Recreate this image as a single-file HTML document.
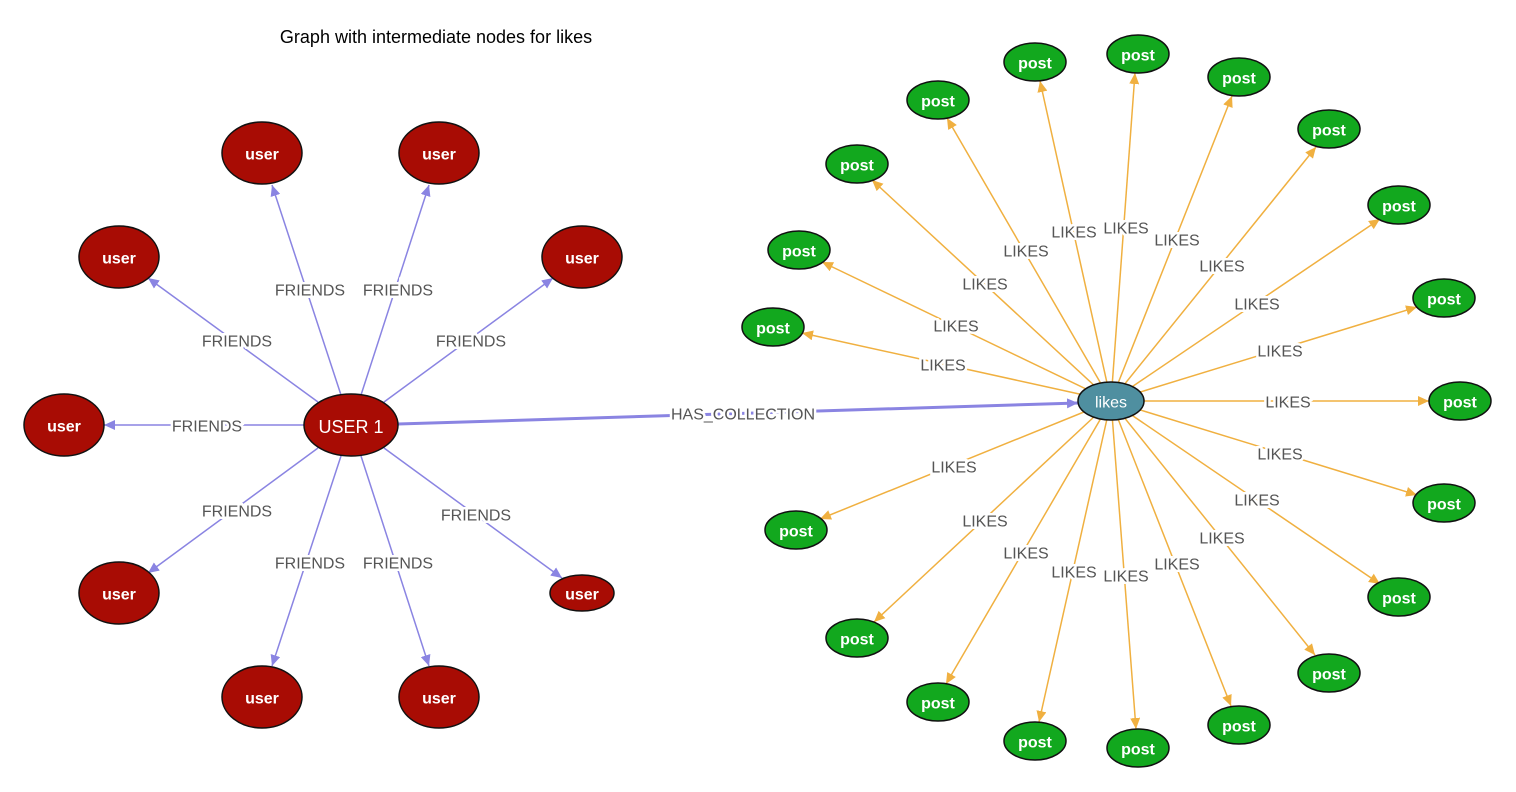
<!DOCTYPE html>
<html><head><meta charset="utf-8"><style>
html,body{margin:0;padding:0;background:#fff;}
svg{display:block;font-family:"Liberation Sans",Arial,sans-serif;}
.lb{font-size:16px;fill:#555;text-anchor:middle;dominant-baseline:central;paint-order:stroke;stroke:#fff;stroke-width:5px;transform:translateY(2px);}
.nt{font-size:16px;fill:#fff;text-anchor:middle;dominant-baseline:central;font-weight:bold;transform:translateY(2px);}
.f{stroke:#8a84e2;stroke-width:1.5;marker-end:url(#ab);}
.l{stroke:#f0b040;stroke-width:1.5;marker-end:url(#ao);}
.u{fill:#a80c04;stroke:#111;stroke-width:1.5;}
.p{fill:#12a81e;stroke:#111;stroke-width:1.5;}
</style></head><body>
<svg width="1516" height="792" viewBox="0 0 1516 792">
<defs>
<marker id="ab" markerUnits="userSpaceOnUse" markerWidth="12" markerHeight="10" refX="11" refY="5" orient="auto"><path d="M0,0L11,5L0,10z" fill="#8a84e2"/></marker>
<marker id="ao" markerUnits="userSpaceOnUse" markerWidth="12" markerHeight="10" refX="11" refY="5" orient="auto"><path d="M0,0L11,5L0,10z" fill="#f0b040"/></marker>
</defs>
<text x="436" y="37" font-size="18" text-anchor="middle" dominant-baseline="central" fill="#000">Graph with intermediate nodes for likes</text>
<g>
<line class="f" x1="341" y1="395" x2="272" y2="185"/>
<line class="f" x1="361" y1="395" x2="429" y2="185"/>
<line class="f" x1="318" y1="402" x2="148" y2="278"/>
<line class="f" x1="384" y1="402" x2="553" y2="278"/>
<line class="f" x1="304" y1="425" x2="104" y2="425"/>
<line class="f" x1="318" y1="448" x2="148" y2="573"/>
<line class="f" x1="341" y1="456" x2="272" y2="666"/>
<line class="f" x1="361" y1="456" x2="429" y2="666"/>
<line class="f" x1="384" y1="448" x2="562" y2="578"/>
<line x1="398" y1="424" x2="1078" y2="403" stroke="#8a84e2" stroke-width="3" marker-end="url(#ab)"/>
</g>
<g>
<line class="l" x1="1111" y1="401" x2="1040" y2="81"/>
<line class="l" x1="1111" y1="401" x2="1135" y2="73"/>
<line class="l" x1="1111" y1="401" x2="1232" y2="96"/>
<line class="l" x1="1111" y1="401" x2="1316" y2="147"/>
<line class="l" x1="1111" y1="401" x2="1380" y2="219"/>
<line class="l" x1="1111" y1="401" x2="1417" y2="307"/>
<line class="l" x1="1111" y1="401" x2="1429" y2="401"/>
<line class="l" x1="1111" y1="401" x2="1417" y2="495"/>
<line class="l" x1="1111" y1="401" x2="1380" y2="584"/>
<line class="l" x1="1111" y1="401" x2="1315" y2="655"/>
<line class="l" x1="1111" y1="401" x2="1231" y2="706"/>
<line class="l" x1="1111" y1="401" x2="1136" y2="729"/>
<line class="l" x1="1111" y1="401" x2="1039" y2="722"/>
<line class="l" x1="1111" y1="401" x2="946" y2="684"/>
<line class="l" x1="1111" y1="401" x2="874" y2="622"/>
<line class="l" x1="1111" y1="401" x2="820" y2="519"/>
<line class="l" x1="1111" y1="401" x2="802" y2="333"/>
<line class="l" x1="1111" y1="401" x2="822" y2="262"/>
<line class="l" x1="1111" y1="401" x2="872" y2="180"/>
<line class="l" x1="1111" y1="401" x2="947" y2="118"/>
</g>
<g class="labels">
<text class="lb" x="310" y="289">FRIENDS</text>
<text class="lb" x="398" y="289">FRIENDS</text>
<text class="lb" x="237" y="340">FRIENDS</text>
<text class="lb" x="471" y="340">FRIENDS</text>
<text class="lb" x="207" y="425">FRIENDS</text>
<text class="lb" x="237" y="510">FRIENDS</text>
<text class="lb" x="310" y="562">FRIENDS</text>
<text class="lb" x="398" y="562">FRIENDS</text>
<text class="lb" x="476" y="514">FRIENDS</text>
<text class="lb" x="743" y="413">HAS_COLLECTION</text>
<text class="lb" x="1074" y="231">LIKES</text>
<text class="lb" x="1126" y="227">LIKES</text>
<text class="lb" x="1177" y="239">LIKES</text>
<text class="lb" x="1222" y="265">LIKES</text>
<text class="lb" x="1257" y="303">LIKES</text>
<text class="lb" x="1280" y="350">LIKES</text>
<text class="lb" x="1288" y="401">LIKES</text>
<text class="lb" x="1280" y="453">LIKES</text>
<text class="lb" x="1257" y="499">LIKES</text>
<text class="lb" x="1222" y="537">LIKES</text>
<text class="lb" x="1177" y="563">LIKES</text>
<text class="lb" x="1126" y="575">LIKES</text>
<text class="lb" x="1074" y="571">LIKES</text>
<text class="lb" x="1026" y="552">LIKES</text>
<text class="lb" x="985" y="520">LIKES</text>
<text class="lb" x="954" y="466">LIKES</text>
<text class="lb" x="943" y="364">LIKES</text>
<text class="lb" x="956" y="325">LIKES</text>
<text class="lb" x="985" y="283">LIKES</text>
<text class="lb" x="1026" y="250">LIKES</text>
</g>
<g>
<ellipse class="u" cx="351" cy="425" rx="47" ry="31"/><text class="nt" x="351" y="425" style="font-weight:normal;font-size:18px">USER 1</text>
<ellipse class="u" cx="262" cy="153" rx="40" ry="31"/><text class="nt" x="262" y="153">user</text>
<ellipse class="u" cx="439" cy="153" rx="40" ry="31"/><text class="nt" x="439" y="153">user</text>
<ellipse class="u" cx="119" cy="257" rx="40" ry="31"/><text class="nt" x="119" y="257">user</text>
<ellipse class="u" cx="582" cy="257" rx="40" ry="31"/><text class="nt" x="582" y="257">user</text>
<ellipse class="u" cx="64" cy="425" rx="40" ry="31"/><text class="nt" x="64" y="425">user</text>
<ellipse class="u" cx="119" cy="593" rx="40" ry="31"/><text class="nt" x="119" y="593">user</text>
<ellipse class="u" cx="262" cy="697" rx="40" ry="31"/><text class="nt" x="262" y="697">user</text>
<ellipse class="u" cx="439" cy="697" rx="40" ry="31"/><text class="nt" x="439" y="697">user</text>
<ellipse class="u" cx="582" cy="593" rx="32" ry="18"/><text class="nt" x="582" y="593">user</text>
<ellipse cx="1111" cy="401" rx="33" ry="19" fill="#4f8fa0" stroke="#111" stroke-width="1.5"/><text class="nt" x="1111" y="401" style="font-weight:normal">likes</text>
</g>
<g>
<ellipse class="p" cx="1035" cy="62" rx="31" ry="19"/><text class="nt" x="1035" y="62">post</text>
<ellipse class="p" cx="1138" cy="54" rx="31" ry="19"/><text class="nt" x="1138" y="54">post</text>
<ellipse class="p" cx="1239" cy="77" rx="31" ry="19"/><text class="nt" x="1239" y="77">post</text>
<ellipse class="p" cx="1329" cy="129" rx="31" ry="19"/><text class="nt" x="1329" y="129">post</text>
<ellipse class="p" cx="1399" cy="205" rx="31" ry="19"/><text class="nt" x="1399" y="205">post</text>
<ellipse class="p" cx="1444" cy="298" rx="31" ry="19"/><text class="nt" x="1444" y="298">post</text>
<ellipse class="p" cx="1460" cy="401" rx="31" ry="19"/><text class="nt" x="1460" y="401">post</text>
<ellipse class="p" cx="1444" cy="503" rx="31" ry="19"/><text class="nt" x="1444" y="503">post</text>
<ellipse class="p" cx="1399" cy="597" rx="31" ry="19"/><text class="nt" x="1399" y="597">post</text>
<ellipse class="p" cx="1329" cy="673" rx="31" ry="19"/><text class="nt" x="1329" y="673">post</text>
<ellipse class="p" cx="1239" cy="725" rx="31" ry="19"/><text class="nt" x="1239" y="725">post</text>
<ellipse class="p" cx="1138" cy="748" rx="31" ry="19"/><text class="nt" x="1138" y="748">post</text>
<ellipse class="p" cx="1035" cy="741" rx="31" ry="19"/><text class="nt" x="1035" y="741">post</text>
<ellipse class="p" cx="938" cy="702" rx="31" ry="19"/><text class="nt" x="938" y="702">post</text>
<ellipse class="p" cx="857" cy="638" rx="31" ry="19"/><text class="nt" x="857" y="638">post</text>
<ellipse class="p" cx="796" cy="530" rx="31" ry="19"/><text class="nt" x="796" y="530">post</text>
<ellipse class="p" cx="773" cy="327" rx="31" ry="19"/><text class="nt" x="773" y="327">post</text>
<ellipse class="p" cx="799" cy="250" rx="31" ry="19"/><text class="nt" x="799" y="250">post</text>
<ellipse class="p" cx="857" cy="164" rx="31" ry="19"/><text class="nt" x="857" y="164">post</text>
<ellipse class="p" cx="938" cy="100" rx="31" ry="19"/><text class="nt" x="938" y="100">post</text>
</g>
</svg>
</body></html>
